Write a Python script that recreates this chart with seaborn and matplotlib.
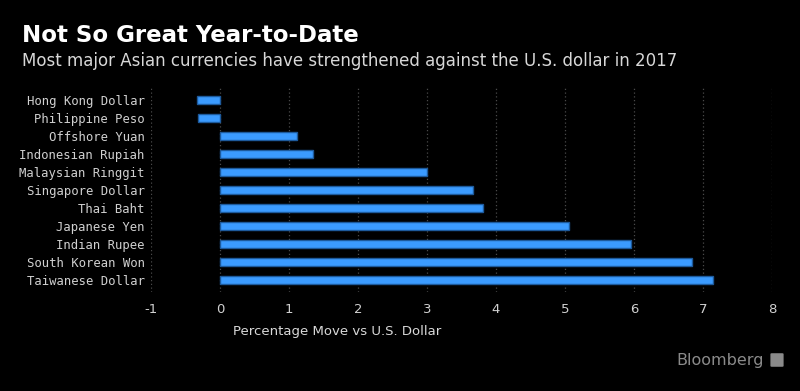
import matplotlib
matplotlib.use("Agg")
import matplotlib.pyplot as plt
import seaborn as sns
import pandas as pd
from matplotlib.patches import FancyBboxPatch

currencies = ["Hong Kong Dollar", "Philippine Peso", "Offshore Yuan", "Indonesian Rupiah",
              "Malaysian Ringgit", "Singapore Dollar", "Thai Baht", "Japanese Yen",
              "Indian Rupee", "South Korean Won", "Taiwanese Dollar"]
moves = [-0.33, -0.32, 1.12, 1.35, 3.00, 3.67, 3.81, 5.06, 5.95, 6.84, 7.14]
x_ticks = [-1, 0, 1, 2, 3, 4, 5, 6, 7, 8]

df = pd.DataFrame({"currency": currencies, "move": moves})

sns.set_theme(style="dark")
plt.rcParams["font.family"] = ["DejaVu Sans"]

fig = plt.figure(figsize=(8, 3.91), dpi=100, facecolor="black")
ax = fig.add_axes([151/800, 1-292/391, (772-151)/800, (292-88)/391])
ax.set_facecolor("black")

sns.barplot(data=df, x="move", y="currency", orient="h", color="#3b9bff",
            width=0.42, edgecolor="#1d5a9c", linewidth=1, saturation=1, ax=ax)

ax.set_xlim(-1, 8)
ax.set_ylim(10.5 + 0.17, -0.5 - 0.17)
ax.set_xticks(x_ticks)
ax.set_xticklabels([str(t) for t in x_ticks])
ax.grid(axis="x", color="#4a4a4a", linestyle=(0, (1, 2)), linewidth=0.9)
ax.grid(axis="y", visible=False)
ax.set_axisbelow(True)
for s in ax.spines.values():
    s.set_visible(False)
ax.tick_params(axis="both", length=0, colors="#d0d0d0")
for lab in ax.get_yticklabels():
    lab.set_fontfamily("DejaVu Sans Mono")
    lab.set_fontsize(8.8)
    lab.set_color("#d0d0d0")
for lab in ax.get_xticklabels():
    lab.set_fontsize(9.5)
    lab.set_color("#d0d0d0")
ax.tick_params(axis="y", pad=4.5)
ax.tick_params(axis="x", pad=8)
ax.set_xlabel("")
ax.set_ylabel("")

fig.text(22/800, 1-36/391, "Not So Great Year-to-Date", color="white", fontsize=16.5,
         fontweight="bold", va="center", ha="left")
fig.text(22/800, 1-61/391, "Most major Asian currencies have strengthened against the U.S. dollar in 2017",
         color="#d8d8d8", fontsize=12, va="center", ha="left")
fig.text(337/800, 1-331/391, "Percentage Move vs U.S. Dollar", color="#d8d8d8", fontsize=9.5,
         va="center", ha="center")
fig.text(764/800, 1-360/391, "Bloomberg", color="#8a8a8a", fontsize=11.5,
         va="center", ha="right")
fig.patches.append(FancyBboxPatch((772/800, 1-366/391), 10/800, 12/391,
                                  boxstyle="round,pad=0.002", transform=fig.transFigure,
                                  facecolor="#8a8a8a", edgecolor="none"))

fig.savefig("out.png", dpi=100, facecolor="black")
